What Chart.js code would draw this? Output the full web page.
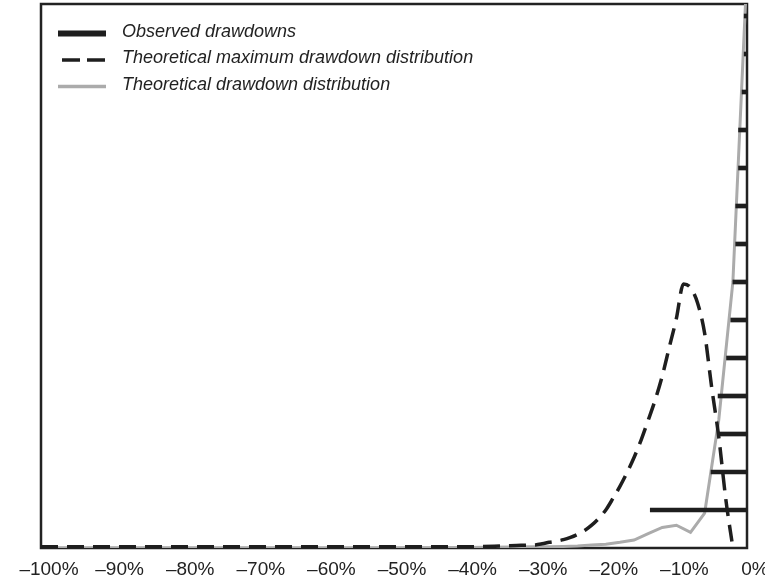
<!DOCTYPE html>
<html>
<head>
<meta charset="utf-8">
<title>Drawdowns</title>
<script src="https://cdn.jsdelivr.net/npm/chart.js@4/dist/chart.umd.min.js"></script>
<style>
  html, body { margin: 0; padding: 0; background: #ffffff; }
  canvas { display: block; }
</style>
</head>
<body>
<canvas id="chart" width="765" height="580"></canvas>
<script>
// X axis ticks (drawdown, %)
const tickValues = [-100, -90, -80, -70, -60, -50, -40, -30, -20, -10, 0];
const tickLabels = ['–100%', '–90%', '–80%', '–70%', '–60%', '–50%', '–40%', '–30%', '–20%', '–10%', '0%'];

const seriesNames = [
  'Observed drawdowns',
  'Theoretical maximum drawdown distribution',
  'Theoretical drawdown distribution'
];

// Observed drawdowns, ranked from the deepest (rank 1) to the shallowest
const observedRank = [1, 2, 3, 4, 5, 6, 7, 8, 9, 10, 11, 12, 13, 14];
const observedDrawdown = [-13.7, -5.1, -4.1, -4.1, -2.9, -2.3, -2.0, -1.6, -1.6, -1.2, -1.2, -0.7, -0.4, -0.4];

// Theoretical maximum drawdown distribution
const maxDDx = [-100, -95, -90, -85, -80, -75, -70, -65, -60, -55, -50, -45, -40, -35, -32, -30, -29, -28, -27, -26,
                -25, -24, -23, -22, -21, -20, -19, -18, -17, -16, -15, -14, -13, -12, -11, -10, -9, -8, -7, -6,
                -5, -4, -3, -2];
const maxDDy = [0.03, 0.03, 0.03, 0.03, 0.03, 0.03, 0.03, 0.03, 0.03, 0.03, 0.03, 0.03, 0.03, 0.05, 0.07, 0.08, 0.11, 0.15, 0.18, 0.22,
                0.28, 0.36, 0.46, 0.6, 0.78, 1.0, 1.3, 1.62, 1.98, 2.38, 2.84, 3.36, 3.9, 4.53, 5.29, 6.04, 6.95, 6.85, 6.45, 5.65,
                4.22, 2.92, 1.28, 0];

// Theoretical drawdown distribution
const distX = [-100, -90, -80, -70, -60, -50, -40, -30, -28, -26, -24, -22, -20, -18, -16, -14, -12, -10, -8, -6, -4, -2, 0];
const distY = [0, 0, 0, 0, 0, 0, 0.01, 0.03, 0.03, 0.04, 0.05, 0.08, 0.1, 0.15, 0.21, 0.38, 0.54, 0.6, 0.41, 0.92, 3.37, 7.0, 15.2];

const INK = '#1e1e1e';
const GREY = '#ababab';
const FONT = '"Liberation Sans", Arial, Helvetica, sans-serif';
const Y_MAX = 14.316;

const pairs = (xs, ys) => xs.map((x, i) => ({ x: x, y: ys[i] }));

// Box around the plotting area, drawn beneath the series
const framePlugin = {
  id: 'frame',
  beforeDatasetsDraw(chart) {
    const { ctx, chartArea: a } = chart;
    ctx.save();
    ctx.strokeStyle = '#222222';
    ctx.lineWidth = 2.5;
    ctx.strokeRect(a.left, a.top, a.right - a.left, a.bottom - a.top);
    ctx.restore();
  }
};

// Legend set inside the plot, top left
const insetLegend = {
  id: 'insetLegend',
  afterDraw(chart) {
    const ctx = chart.ctx;
    const a = chart.chartArea;
    const x0 = a.left + 17, swatchW = 48, textX = a.left + 81;
    const firstBaseline = a.top + 32.5, step = 26.5;
    ctx.save();
    chart.data.datasets.forEach((ds, i) => {
      const base = firstBaseline + i * step;
      const cy = base - 3;
      if (ds.type === 'bar') {
        ctx.fillStyle = ds.backgroundColor;
        ctx.fillRect(x0, cy - 3, swatchW, 6);
      } else {
        ctx.strokeStyle = ds.borderColor;
        ctx.lineWidth = 3.5;
        ctx.lineCap = 'butt';
        if (ds.borderDash) {
          ctx.setLineDash([18, 7]);
          ctx.beginPath();
          ctx.moveTo(x0 + 4, cy);
          ctx.lineTo(x0 + swatchW, cy);
          ctx.stroke();
          ctx.setLineDash([]);
        } else {
          ctx.beginPath();
          ctx.moveTo(x0, cy);
          ctx.lineTo(x0 + swatchW, cy);
          ctx.stroke();
        }
      }
      ctx.fillStyle = '#222222';
      ctx.font = 'italic 18px ' + FONT;
      ctx.textBaseline = 'alphabetic';
      ctx.textAlign = 'left';
      ctx.fillText(ds.label, textX, base);
    });
    ctx.restore();
  }
};

new Chart(document.getElementById('chart').getContext('2d'), {
  type: 'line',
  data: {
    datasets: [
      {
        type: 'bar',
        label: seriesNames[0],
        indexAxis: 'y',
        xAxisID: 'x',
        yAxisID: 'rank',
        data: observedRank.map((r, i) => ({ y: r, x: [observedDrawdown[i], 0] })),
        backgroundColor: INK,
        borderWidth: 0,
        barThickness: 4,
        grouped: false,
        order: 1
      },
      {
        label: seriesNames[1],
        xAxisID: 'x',
        yAxisID: 'y',
        data: pairs(maxDDx, maxDDy),
        borderColor: INK,
        borderWidth: 3.5,
        borderDash: [17, 9],
        borderCapStyle: 'butt',
        pointRadius: 0,
        cubicInterpolationMode: 'monotone',
        fill: false,
        order: 0
      },
      {
        label: seriesNames[2],
        xAxisID: 'x',
        yAxisID: 'y',
        data: pairs(distX, distY),
        borderColor: GREY,
        borderWidth: 3,
        pointRadius: 0,
        tension: 0,
        fill: false,
        order: 2
      }
    ]
  },
  options: {
    responsive: false,
    animation: false,
    events: [],
    layout: { padding: { left: 41, right: 18, top: 4, bottom: 0 } },
    plugins: { legend: { display: false }, tooltip: { enabled: false } },
    scales: {
      x: {
        type: 'linear',
        min: -100,
        max: 0,
        offset: false,
        grid: { display: false, drawTicks: false, tickLength: 0 },
        border: { display: false },
        ticks: {
          autoSkip: false,
          maxRotation: 0,
          padding: 10,
          labelOffset: 8,
          color: '#222222',
          font: { family: FONT, size: 19 },
          callback: (v, i) => tickLabels[i]
        },
        afterBuildTicks: (scale) => { scale.ticks = tickValues.map(v => ({ value: v })); },
        afterFit: (scale) => { scale.height = 32; scale.paddingLeft = 0; scale.paddingRight = 0; }
      },
      y: { type: 'linear', min: 0, max: Y_MAX, offset: false, display: false },
      rank: { type: 'linear', axis: 'y', min: 0, max: Y_MAX, offset: false, display: false }
    }
  },
  plugins: [framePlugin, insetLegend]
});
</script>
</body>
</html>
